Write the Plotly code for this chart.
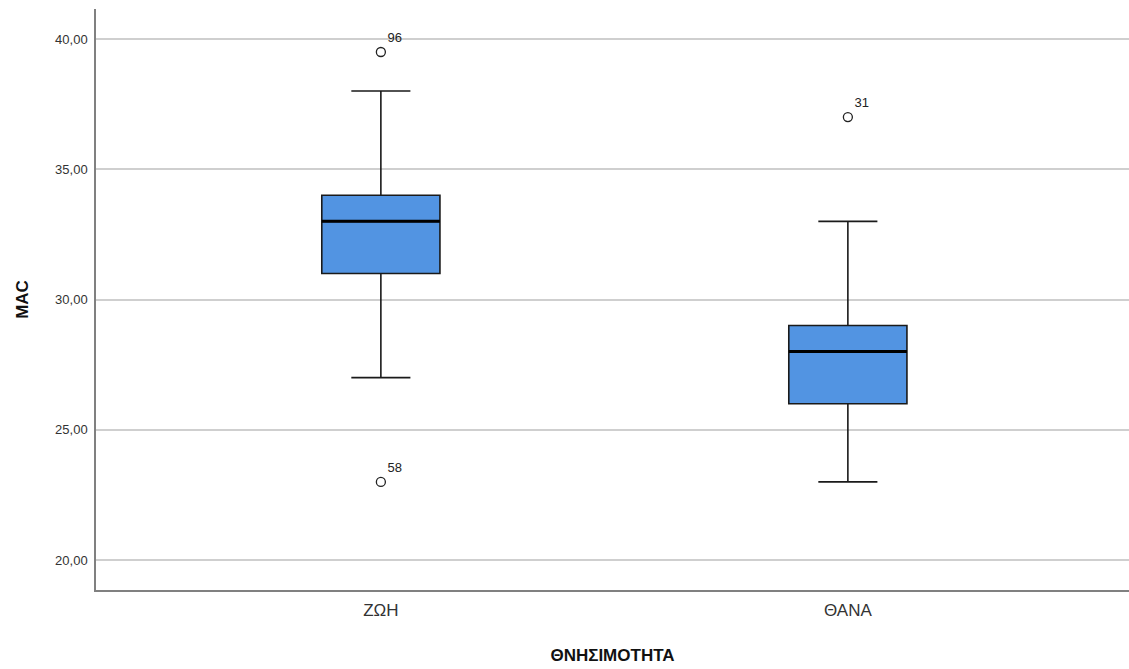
import plotly.graph_objects as go

categories = ["ΖΩΗ", "ΘΑΝΑ"]
q1 = [31, 26]
median = [33, 28]
q3 = [34, 29]
lower_whisker = [27, 23]
upper_whisker = [38, 33]

outlier_group = [0, 0, 1]
outlier_values = [39.5, 23, 37]
outlier_labels = ["96", "58", "31"]

y_ticks = [20, 25, 30, 35, 40]
y_tick_labels = ["20,00", "25,00", "30,00", "35,00", "40,00"]

box_width = 0.253
font_family = "Liberation Sans, Arial, sans-serif"

fig = go.Figure()

fig.add_trace(go.Box(
    x=list(range(len(categories))),
    q1=q1, median=median, q3=q3,
    lowerfence=lower_whisker, upperfence=upper_whisker,
    width=box_width, whiskerwidth=0.5,
    fillcolor="#5294E2",
    line=dict(color="#1a1a1a", width=1.6),
    boxpoints=False, hoverinfo="skip", showlegend=False,
))

# thicker median lines
mx, my = [], []
for i, m in enumerate(median):
    mx += [i - box_width / 2, i + box_width / 2, None]
    my += [m, m, None]
fig.add_trace(go.Scatter(
    x=mx, y=my, mode="lines",
    line=dict(color="#000000", width=3),
    showlegend=False, hoverinfo="skip",
))

fig.add_trace(go.Scatter(
    x=outlier_group, y=outlier_values,
    mode="markers+text",
    marker=dict(symbol="circle-open", size=9, color="#222222", line=dict(width=1.3)),
    text=outlier_labels, textposition="top right",
    textfont=dict(family=font_family, size=13, color="#222222"),
    showlegend=False, hoverinfo="skip",
))

fig.update_layout(
    width=1129, height=669,
    margin=dict(l=96, r=0, t=9, b=79),
    plot_bgcolor="white", paper_bgcolor="white",
    font=dict(family=font_family, color="#222222"),
)

fig.update_xaxes(
    tickmode="array",
    tickvals=list(range(len(categories))),
    ticktext=categories,
    range=[-0.610, 1.602],
    showgrid=False, zeroline=False,
    showline=True, linecolor="#808080", linewidth=1.5,
    ticks="", ticklabelstandoff=4,
    tickfont=dict(size=17, color="#333333"),
    title=dict(text="<b>ΘΝΗΣΙΜΟΤΗΤΑ</b>", font=dict(size=17, color="#111111"), standoff=30),
)

fig.update_yaxes(
    tickmode="array",
    tickvals=y_ticks,
    ticktext=y_tick_labels,
    range=[18.85, 41.15],
    showgrid=True, gridcolor="#cfcfcf", gridwidth=1.5,
    zeroline=False,
    showline=True, linecolor="#808080", linewidth=1.5,
    ticks="", ticklabelstandoff=4,
    tickfont=dict(size=13, color="#333333"),
    title=dict(text="<b>MAC</b>", font=dict(size=17, color="#111111"), standoff=22),
)

fig.write_html("out.html", config={"displayModeBar": False},
               post_script="document.body.style.margin='0';")
